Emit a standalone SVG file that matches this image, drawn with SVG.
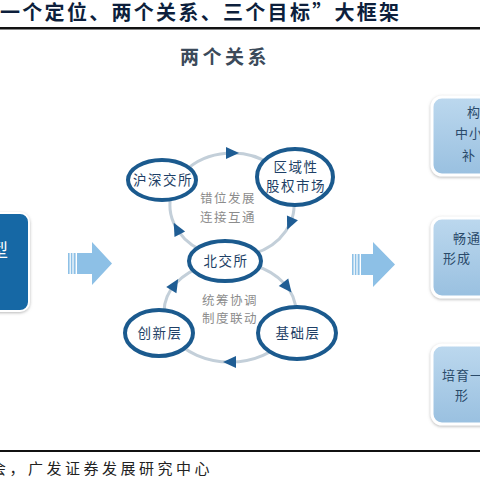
<svg xmlns="http://www.w3.org/2000/svg" width="480" height="480" viewBox="0 0 480 480">
<style>
.cjk{font-family:"Noto Sans CJK SC","Noto Sans CJK JP",sans-serif}
.node{fill:#fff;stroke:#1b5a8e;stroke-width:4}
.nt{font-size:13.5px;fill:#1e3f66;text-anchor:middle;letter-spacing:1.5px}
.arc{fill:none;stroke:#c3cfd9;stroke-width:3}
.ah{fill:#1f5d94}
.mid{font-size:12.5px;fill:#8c8c8c;text-anchor:middle;letter-spacing:1.5px}
.bigarrow{fill:#8dc0e6}
.goal{fill:url(#gb);stroke:#fff;stroke-width:3;filter:url(#sh)}
.gt{font-size:13px;fill:#2a4a6a;letter-spacing:1px}
</style>
<defs>
<linearGradient id="gb" x1="0" y1="0" x2="0" y2="1">
<stop offset="0" stop-color="#bcd8ee"/>
<stop offset="1" stop-color="#99c0e0"/>
</linearGradient>
<filter id="sh" x="-20%" y="-20%" width="140%" height="140%">
<feDropShadow dx="0" dy="1" stdDeviation="1.5" flood-color="#888" flood-opacity="0.6"/>
</filter>
<path id="head" d="M7 0 L-6 -6 L-6 6 Z"/>
</defs>
<rect width="480" height="480" fill="#fff"/>
<g id="title">
<text class="cjk" x="0" y="20" font-size="20" font-weight="bold" fill="#0d1f3c" letter-spacing="2.3">一个定位、两个关系、三个目标”大框架</text>
<rect x="0" y="27" width="480" height="2.5" fill="#111"/>
</g>
<g id="header">
<text class="cjk" x="180" y="64" font-size="19" font-weight="bold" fill="#3b4a5a" letter-spacing="3.5">两个关系</text>
</g>
<g id="left-box">
<rect x="-20" y="213" width="49" height="98" rx="9" fill="#1467a5" stroke="#fff" stroke-width="2" filter="url(#sh)"/>
<text class="cjk" x="-10" y="257" font-size="18" fill="#fff">型</text>
</g>
<g id="arrow-left">
<rect class="bigarrow" x="68" y="253" width="1.6" height="21"/>
<rect class="bigarrow" x="70.8" y="253" width="1.6" height="21"/>
<rect class="bigarrow" x="73.6" y="253" width="2" height="21"/>
<polygon class="bigarrow" points="77,253 92,253 92,242 112,263.5 92,285 92,274 77,274"/>
</g>
<g id="arrow-right">
<rect class="bigarrow" x="352" y="254" width="1.6" height="21"/>
<rect class="bigarrow" x="354.8" y="254" width="1.6" height="21"/>
<rect class="bigarrow" x="357.6" y="254" width="2" height="21"/>
<polygon class="bigarrow" points="361,254 373,254 373,242 395,264.5 373,287 373,275 361,275"/>
</g>
<g id="connectors">
<path class="arc" d="M184.5 171.6 A62 52 0 0 1 271.9 165.2"/>
<path class="arc" d="M293.1 196 A62 52 0 0 1 253.2 253.9"/>
<path class="arc" d="M210.8 253.9 A62 52 0 0 1 170.9 196"/>
<path class="arc" d="M164 312 A66 50 0 0 1 207.4 265"/>
<path class="arc" d="M252.6 265 A66 50 0 0 1 296 312"/>
<path class="arc" d="M287.2 337 A66 50 0 0 1 172.8 337"/>
<use href="#head" class="ah" transform="translate(232 153)"/>
<use href="#head" class="ah" transform="translate(290 223.4) rotate(114)"/>
<use href="#head" class="ah" transform="translate(177 229) rotate(-118)"/>
<use href="#head" class="ah" transform="translate(174.5 285) rotate(-58)"/>
<use href="#head" class="ah" transform="translate(287.2 287) rotate(52)"/>
<use href="#head" class="ah" transform="translate(230 362) rotate(180)"/>
</g>
<g id="mid-labels">
<text class="cjk mid" x="228" y="203">错位发展</text>
<text class="cjk mid" x="228" y="222">连接互通</text>
<text class="cjk mid" x="230" y="305">统筹协调</text>
<text class="cjk mid" x="230" y="323">制度联动</text>
</g>
<g id="node-hushen">
<ellipse class="node" cx="162" cy="180" rx="34" ry="20"/>
<text class="cjk nt" x="163" y="185">沪深交所</text>
</g>
<g id="node-quyu">
<ellipse class="node" cx="295" cy="177" rx="38" ry="28"/>
<text class="cjk nt" x="296" y="172">区域性</text>
<text class="cjk nt" x="296" y="191">股权市场</text>
</g>
<g id="node-beijiao">
<ellipse class="node" cx="225" cy="261" rx="36" ry="20"/>
<text class="cjk nt" x="226" y="266">北交所</text>
</g>
<g id="node-chuangxin">
<ellipse class="node" cx="159" cy="333" rx="34" ry="23"/>
<text class="cjk nt" x="160" y="338">创新层</text>
</g>
<g id="node-jichu">
<ellipse class="node" cx="297" cy="333" rx="39" ry="26"/>
<text class="cjk nt" x="298" y="338">基础层</text>
</g>
<g id="goal-1">
<rect class="goal" x="432" y="97" width="80" height="78" rx="10"/>
<text class="cjk gt" x="467" y="117">构</text>
<text class="cjk gt" x="455" y="138">中小</text>
<text class="cjk gt" x="462" y="160">补</text>
</g>
<g id="goal-2">
<rect class="goal" x="432" y="218" width="80" height="79" rx="10"/>
<text class="cjk gt" x="453" y="243">畅通</text>
<text class="cjk gt" x="443" y="263">形成</text>
</g>
<g id="goal-3">
<rect class="goal" x="432" y="345" width="80" height="79" rx="10"/>
<text class="cjk gt" x="442" y="380">培育一</text>
<text class="cjk gt" x="455" y="400">形</text>
</g>
<g id="source">
<rect x="0" y="450" width="480" height="2" fill="#111"/>
<text class="cjk" x="-9" y="474" font-size="15" fill="#222" letter-spacing="3.5">会，广发证券发展研究中心</text>
</g>
</svg>
